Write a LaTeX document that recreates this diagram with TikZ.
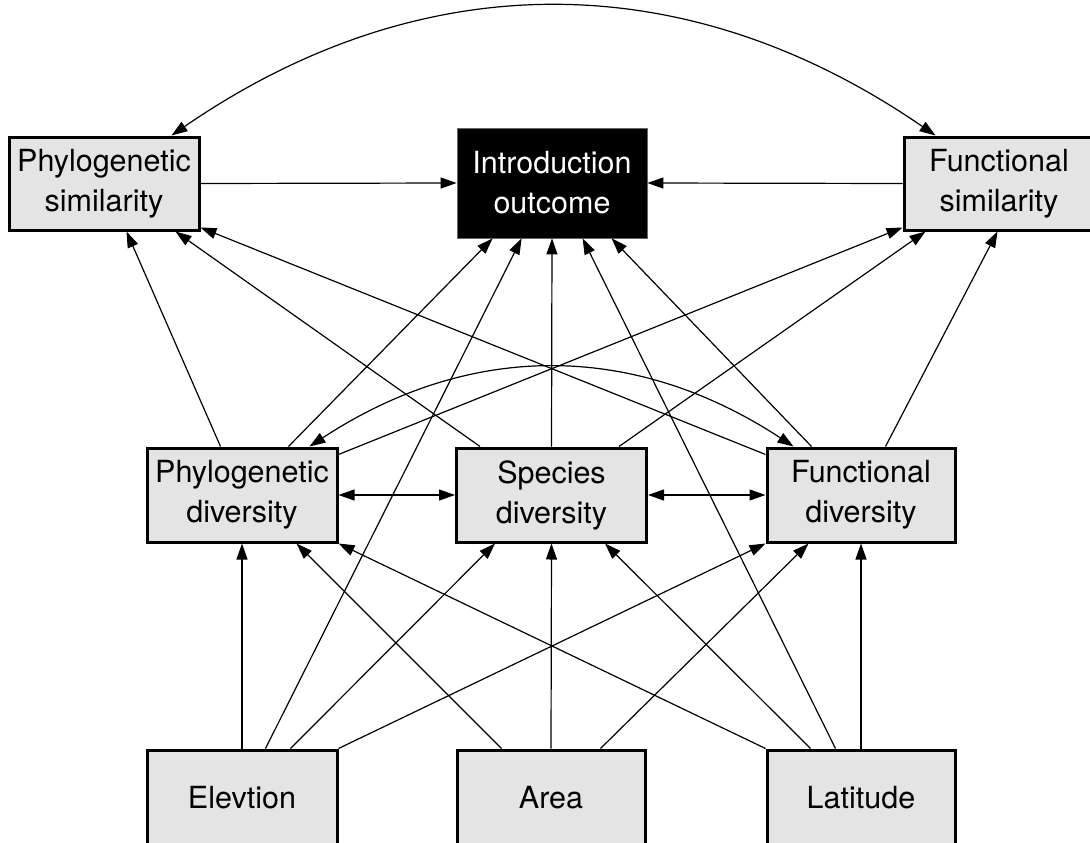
\documentclass[tikz,border=0pt]{standalone}
\usepackage{fontspec}
\setmainfont{TeX Gyre Heros}
\usetikzlibrary{arrows.meta,calc}
\definecolor{boxgray}{HTML}{E4E4E4}
\tikzset{
  box/.style={draw=black, line width=3pt, fill=boxgray, minimum width=190pt, minimum height=93pt,
    inner sep=0pt, align=center, font=\fontsize{30.5}{40}\selectfont},
  outbox/.style={draw=black!60, line width=0.8pt, fill=black, text=white, minimum width=190pt, minimum height=110pt,
    inner sep=0pt, align=center, font=\fontsize{30.5}{40}\selectfont},
  conn/.style={line width=1.2pt, -{Triangle[length=16pt,width=11pt]}},
  bconn/.style={line width=1.2pt, {Triangle[length=16pt,width=11pt]}-{Triangle[length=16pt,width=11pt]}}
}
\begin{document}
\begin{tikzpicture}[x=1pt,y=-1pt]
\useasboundingbox (0,0) rectangle (1090,843);
% nodes
\node[box] (ps) at (104,183.5) {Phylogenetic\\similarity};
\node[outbox] (io) at (552,183) {Introduction\\outcome};
\node[box] (fs) at (999,183.5) {Functional\\similarity};
\node[box, minimum height=94pt] (pd) at (242,495) {Phylogenetic\\diversity};
\node[box, minimum height=94pt] (sd) at (551.5,495) {Species\\diversity};
\node[box, minimum height=94pt, minimum width=188pt] (fd) at (861,495) {Functional\\diversity};
\node[box, minimum height=96pt] (el) at (242,798) {Elevtion};
\node[box, minimum height=96pt, minimum width=188pt] (ar) at (551,798) {Area};
\node[box, minimum height=96pt, minimum width=188pt] (la) at (861,798) {Latitude};

% top level
\draw[conn] (ps.east) -- (io.west);
\draw[conn] (fs.west) -- (io.east);
\draw[bconn] ([xshift=164pt]ps.north west) .. controls +(250,-172) and +(-250,-172) .. ([xshift=33pt]fs.north west);

% middle to top
\draw[conn] ([xshift=75pt]pd.north west) -- ([xshift=119pt]ps.south west);
\draw[conn] ([xshift=143pt]pd.north west) -- ([xshift=36pt]io.south west);
\draw[conn] ([yshift=-8pt]pd.north east) -- ([yshift=4pt]fs.south west);
\draw[conn] ([xshift=25pt]sd.north west) -- ([xshift=168pt]ps.south west);
\draw[conn] (sd.north) -- (io.south);
\draw[conn] ([xshift=164pt]sd.north west) -- ([xshift=23pt]fs.south west);
\draw[conn] ([yshift=-8pt]fd.north west) -- ([yshift=4pt]ps.south east);
\draw[conn] ([xshift=46pt]fd.north west) -- ([xshift=155pt]io.south west);
\draw[conn] ([xshift=120pt]fd.north west) -- ([xshift=95pt]fs.south west);

% middle arcs and horizontals
\draw[bconn] ([xshift=164pt]pd.north west) .. controls +(160,-105) and +(-160,-105) .. ([xshift=28pt]fd.north west);
\draw[bconn] (pd.east) -- (sd.west);
\draw[bconn] (sd.east) -- (fd.west);

% bottom
\draw[conn] (el.north) -- (pd.south);
\draw[conn] ([xshift=120pt]el.north west) -- ([xshift=65pt]io.south west);
\draw[conn] ([xshift=145pt]el.north west) -- ([xshift=40pt]sd.south west);
\draw[conn] (el.north east) -- (fd.south west);
\draw[conn] ([xshift=46pt]ar.north west) -- ([xshift=151pt]pd.south west);
\draw[conn] (ar.north) -- (sd.south);
\draw[conn] ([xshift=145pt]ar.north west) -- ([xshift=43pt]fd.south west);
\draw[conn] (la.north west) -- (pd.south east);
\draw[conn] ([xshift=45pt]la.north west) -- ([xshift=150pt]sd.south west);
\draw[conn] ([xshift=70pt]la.north west) -- ([xshift=126pt]io.south west);
\draw[conn] (la.north) -- (fd.south);
\end{tikzpicture}
\end{document}
